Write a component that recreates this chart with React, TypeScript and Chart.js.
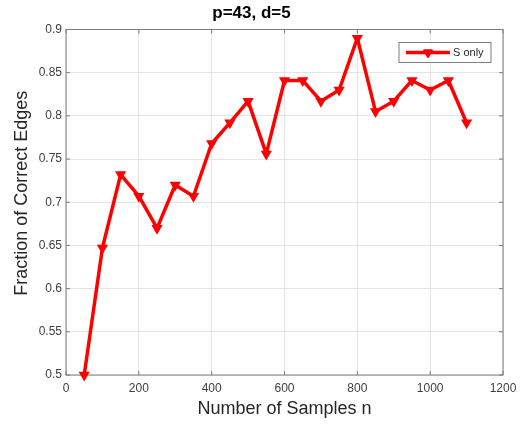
import React, { useEffect, useRef } from "react";
import { Chart, registerables } from "chart.js";

Chart.register(...registerables);

const chartTitle = "p=43, d=5";
const xAxisTitle = "Number of Samples n";
const yAxisTitle = "Fraction of Correct Edges";
const seriesLabel = "S only";

const sampleSizes = [50, 100, 150, 200, 250, 300, 350, 400, 450, 500, 550, 600, 650, 700, 750, 800, 850, 900, 950, 1000, 1050, 1100];
const fractionCorrect = [0.5, 0.647, 0.732, 0.707, 0.67, 0.72, 0.707, 0.768, 0.792, 0.817, 0.756, 0.841, 0.841, 0.817, 0.83, 0.89, 0.805, 0.817, 0.841, 0.83, 0.841, 0.792];

const xTickValues = [0, 200, 400, 600, 800, 1000, 1200];
const yTickValues = [0.5, 0.55, 0.6, 0.65, 0.7, 0.75, 0.8, 0.85, 0.9];

const FONT = '"Liberation Sans", Arial, Helvetica, sans-serif';
const RED = "#ff0000";

function drawDownTriangle(ctx: CanvasRenderingContext2D, x: number, y: number, r: number) {
  ctx.beginPath();
  ctx.moveTo(x, y + r);
  ctx.lineTo(x - r * 0.866, y - r * 0.5);
  ctx.lineTo(x + r * 0.866, y - r * 0.5);
  ctx.closePath();
}

const framePlugin = {
  id: "matlabFrame",
  beforeDatasetsDraw(chart: any) {
    const ctx = chart.ctx as CanvasRenderingContext2D;
    const { left, right, top, bottom } = chart.chartArea;
    const xs = chart.scales.x;
    const ys = chart.scales.y;
    ctx.save();
    ctx.strokeStyle = "#7d7d7d";
    ctx.lineWidth = 1;
    ctx.strokeRect(left, top, right - left, bottom - top);
    ctx.beginPath();
    const tl = 4;
    xTickValues.forEach((v) => {
      const px = xs.getPixelForValue(v);
      ctx.moveTo(px, bottom);
      ctx.lineTo(px, bottom - tl);
      ctx.moveTo(px, top);
      ctx.lineTo(px, top + tl);
    });
    yTickValues.forEach((v) => {
      const py = ys.getPixelForValue(v);
      ctx.moveTo(left, py);
      ctx.lineTo(left + tl, py);
      ctx.moveTo(right, py);
      ctx.lineTo(right - tl, py);
    });
    ctx.stroke();
    // y axis title (MATLAB-style placement, slightly above centre)
    ctx.fillStyle = "#262626";
    ctx.font = `18px ${FONT}`;
    ctx.textAlign = "center";
    ctx.textBaseline = "middle";
    ctx.translate(22, (top + bottom) / 2 - 9);
    ctx.rotate(-Math.PI / 2);
    ctx.fillText(yAxisTitle, 0, 0);
    ctx.restore();
  },
  afterDatasetsDraw(chart: any) {
    const ctx = chart.ctx as CanvasRenderingContext2D;
    const { right, top } = chart.chartArea;
    const boxW = 92;
    const boxH = 20;
    const x0 = right - 12 - boxW;
    const y0 = top + 13;
    const midY = y0 + boxH / 2;
    ctx.save();
    ctx.fillStyle = "#ffffff";
    ctx.fillRect(x0, y0, boxW, boxH);
    ctx.strokeStyle = "#7d7d7d";
    ctx.lineWidth = 1;
    ctx.strokeRect(x0, y0, boxW, boxH);
    ctx.strokeStyle = RED;
    ctx.lineWidth = 3.5;
    ctx.beginPath();
    ctx.moveTo(x0 + 7, midY);
    ctx.lineTo(x0 + 51, midY);
    ctx.stroke();
    ctx.fillStyle = RED;
    ctx.lineWidth = 2;
    ctx.lineJoin = "round";
    drawDownTriangle(ctx, x0 + 29, midY, 4.5);
    ctx.fill();
    ctx.stroke();
    ctx.fillStyle = "#262626";
    ctx.font = `11px ${FONT}`;
    ctx.textBaseline = "middle";
    ctx.textAlign = "left";
    ctx.fillText(seriesLabel, x0 + 54, midY + 0.5);
    ctx.restore();
  },
};

export default function App() {
  const canvasRef = useRef<HTMLCanvasElement | null>(null);

  useEffect(() => {
    document.body.style.margin = "0";
    const canvas = canvasRef.current;
    if (!canvas) return;
    const chart = new Chart(canvas, {
      type: "line",
      data: {
        datasets: [
          {
            label: seriesLabel,
            data: sampleSizes.map((n, i) => ({ x: n, y: fractionCorrect[i] })),
            borderColor: RED,
            backgroundColor: RED,
            borderWidth: 3.5,
            borderJoinStyle: "round",
            borderCapStyle: "round",
            pointStyle: "triangle",
            rotation: 180,
            pointRadius: 4.5,
            pointBorderWidth: 2,
            pointBackgroundColor: RED,
            pointBorderColor: RED,
            tension: 0,
            clip: false as any,
          },
        ],
      },
      options: {
        animation: false,
        responsive: true,
        maintainAspectRatio: false,
        layout: { padding: { left: 0, right: 21, top: 0, bottom: 0 } },
        elements: { point: { borderJoinStyle: "round" } as any },
        plugins: {
          legend: { display: false },
          tooltip: { enabled: false },
          title: {
            display: true,
            text: chartTitle,
            color: "#000000",
            font: { family: FONT, size: 17, weight: "bold" },
            padding: { top: 3, bottom: 6.1 },
          },
        },
        scales: {
          x: {
            type: "linear",
            min: 0,
            max: 1200,
            afterBuildTicks: (scale: any) => {
              scale.ticks = xTickValues.map((v) => ({ value: v }));
            },
            afterFit: (scale: any) => {
              scale.height = 51;
              scale.paddingLeft = 0;
              scale.paddingRight = 0;
            },
            grid: { color: "#e4e4e4", lineWidth: 1, drawTicks: false },
            border: { display: false },
            ticks: {
              padding: 6,
              color: "#404040",
              font: { family: FONT, size: 12 },
              maxRotation: 0,
              autoSkip: false,
              callback: (v: any) => String(v),
            },
            title: {
              display: true,
              text: xAxisTitle,
              color: "#262626",
              font: { family: FONT, size: 18 },
              padding: { top: 0, bottom: 6 },
            },
          },
          y: {
            type: "linear",
            min: 0.5,
            max: 0.9,
            afterBuildTicks: (scale: any) => {
              scale.ticks = yTickValues.map((v) => ({ value: v }));
            },
            afterFit: (scale: any) => {
              scale.width = 66;
              scale.paddingTop = 0;
              scale.paddingBottom = 0;
            },
            grid: { color: "#e4e4e4", lineWidth: 1, drawTicks: false },
            border: { display: false },
            ticks: {
              padding: 4,
              color: "#404040",
              font: { family: FONT, size: 12 },
              autoSkip: false,
              callback: (v: any) => String(Number(Number(v).toFixed(2))),
            },
          },
        },
      },
      plugins: [framePlugin],
    });
    return () => chart.destroy();
  }, []);

  return (
    <div style={{ width: 524, height: 426, position: "relative", background: "#ffffff" }}>
      <canvas ref={canvasRef} />
    </div>
  );
}
